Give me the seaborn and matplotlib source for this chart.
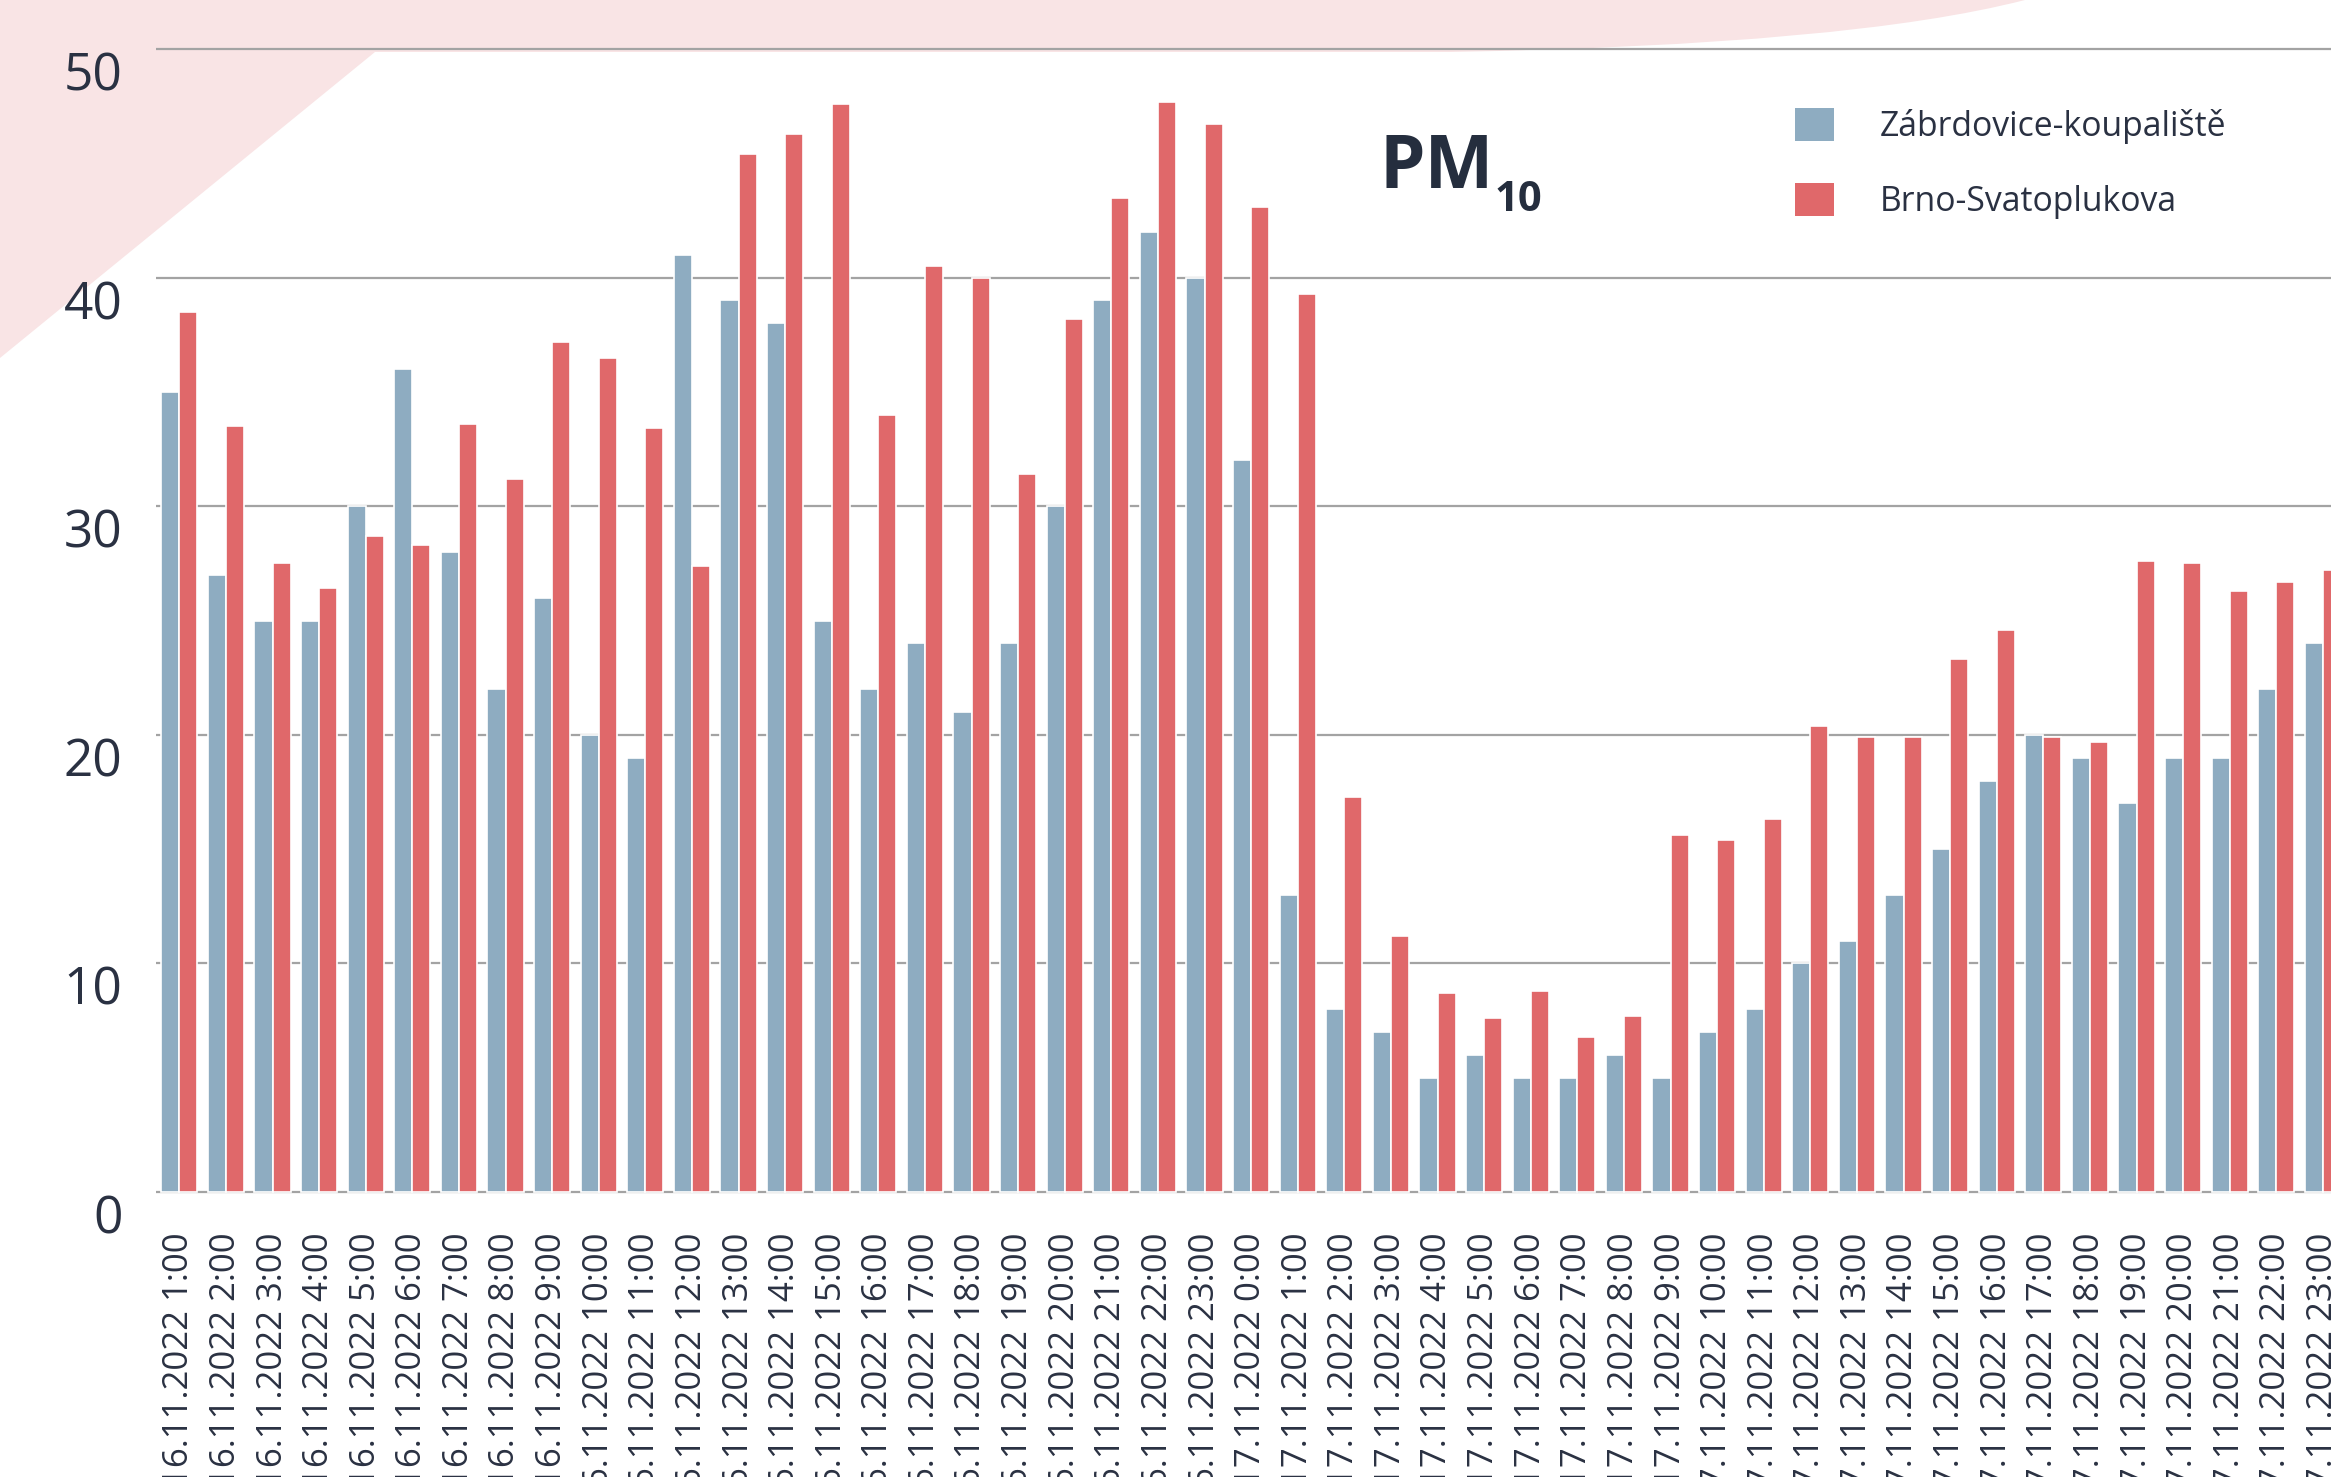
import numpy as np
import pandas as pd
import matplotlib
matplotlib.use("Agg")
import matplotlib.pyplot as plt
import seaborn as sns
from matplotlib.patches import PathPatch, Patch
from matplotlib.path import Path
from matplotlib.transforms import ScaledTranslation

# ---------------- data ----------------
dates = ["16.11.2022"] * 23 + ["17.11.2022"] * 24
hours = list(range(1, 24)) + list(range(0, 24))
time_labels = [f"{d} {h}:00" for d, h in zip(dates, hours)]

zabrdovice = [35, 27, 25, 25, 30, 36, 28, 22, 26, 20,
              19, 41, 39, 38, 25, 22, 24, 21, 24, 30,
              39, 42, 40, 32, 13, 8, 7, 5, 6, 5,
              5, 6, 5, 7, 8, 10, 11, 13, 15, 18,
              20, 19, 17, 19, 19, 22, 24]
svatoplukova = [38.5, 33.5, 27.5, 26.4, 28.7, 28.3, 33.6, 31.2, 37.2, 36.5,
                33.4, 27.4, 45.4, 46.3, 47.6, 34.0, 40.5, 40.0, 31.4, 38.2,
                43.5, 47.7, 46.7, 43.1, 39.3, 17.3, 11.2, 8.7, 7.6, 8.8,
                6.8, 7.7, 15.6, 15.4, 16.3, 20.4, 19.9, 19.9, 23.3, 24.6,
                19.9, 19.7, 27.6, 27.5, 26.3, 26.7, 27.2]
series_names = ["Zábrdovice-koupaliště", "Brno-Svatoplukova"]
series_colors = ["#8eacc1", "#e0686a"]
yticks = [0, 10, 20, 30, 40, 50]

df = pd.DataFrame({
    "time": time_labels * 2,
    "value": zabrdovice + svatoplukova,
    "station": [series_names[0]] * len(zabrdovice) + [series_names[1]] * len(svatoplukova),
})

# ---------------- style ----------------
sns.set_style("white")
plt.rcParams["font.family"] = ["Open Sans", "DejaVu Sans"]
TEXT = "#2a3142"

W, H = 2331, 1477
fig = plt.figure(figsize=(W / 100, H / 100), dpi=100)
fig.patch.set_facecolor("white")

# decorative pink shape (figure pixel coords, y from top)
def fp(x, y):
    return (x / W, 1 - y / H)

verts = [fp(0, 0), fp(2025, 0),
         fp(1850, 45), fp(1450, 52),
         fp(375, 52), fp(0, 358), fp(0, 0)]
codes = [Path.MOVETO, Path.LINETO,
         Path.CURVE3, Path.CURVE3,
         Path.LINETO, Path.LINETO, Path.CLOSEPOLY]
pink = PathPatch(Path(verts, codes), facecolor="#f9e4e5", edgecolor="none",
                 transform=fig.transFigure, zorder=-5)
fig.patches.append(pink)

# axes placement
y0_px, y50_px = 1192, 49
ppu = (y0_px - y50_px) / 50
ylo, yhi = -0.12, 50.25
bottom_px = y0_px + (-ylo) * ppu
top_px = y50_px - (yhi - 50) * ppu
left_px = 156
n = len(time_labels)
spacing = 46.6
ax = fig.add_axes([left_px / W, 1 - bottom_px / H, n * spacing / W, (bottom_px - top_px) / H])
ax.set_facecolor("none")

sns.barplot(data=df, x="time", y="value", hue="station", order=time_labels,
            hue_order=series_names, palette=series_colors, saturation=1,
            width=0.78, edgecolor="white", linewidth=1.2, errorbar=None, ax=ax)

ax.set_xlim(-0.5, n - 0.5)
ax.set_ylim(ylo, yhi)
ax.set_yticks(yticks)
ax.set_yticklabels([str(v) for v in yticks], fontsize=37, color=TEXT)
ax.set_xticks(range(n))
ax.set_xticklabels(time_labels, rotation=90, fontsize=25, color=TEXT, ha="center", va="top")
ax.tick_params(axis="y", length=0, pad=24)
ax.tick_params(axis="x", length=0, pad=27)
ax.set_xlabel("")
ax.set_ylabel("")
for s in ax.spines.values():
    s.set_visible(False)
ax.grid(axis="y", color="#a3a3a3", linewidth=1.6)
ax.grid(axis="x", visible=False)
ax.set_axisbelow(True)

off = ScaledTranslation(0, -0.22, fig.dpi_scale_trans)
for lbl in ax.get_yticklabels():
    lbl.set_transform(lbl.get_transform() + off)

# legend
handles = [Patch(facecolor=c, edgecolor="none") for c in series_colors]
ax.legend(handles, series_names, loc="upper left",
          bbox_to_anchor=fp(1795, 108), bbox_transform=fig.transFigure,
          frameon=False, fontsize=24.3, handlelength=1.15, handleheight=1.15,
          handletextpad=1.35, labelspacing=1.15, borderpad=0, borderaxespad=0,
          labelcolor=TEXT)

# title PM10
fig.text(*fp(1380, 188), "PM", fontsize=52.5, fontweight="bold", color="#252e3e",
         ha="left", va="baseline")
fig.text(*fp(1495, 211), "10", fontsize=30, fontweight="bold", color="#252e3e",
         ha="left", va="baseline")

fig.savefig("out.png", dpi=100)
